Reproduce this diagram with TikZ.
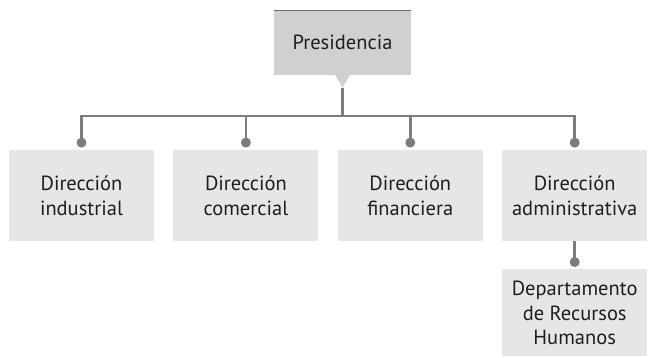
\documentclass[tikz,border=0pt]{standalone}
\usepackage{fontspec}
\setmainfont{PT Sans}
\usetikzlibrary{positioning, calc}
\definecolor{ink}{HTML}{1E1E1E}
\definecolor{linegray}{HTML}{7C7C7C}
\definecolor{topgray}{HTML}{6A6A6A}
\definecolor{presgray}{HTML}{D0D0D0}
\definecolor{softgray}{HTML}{E6E6E6}
\tikzset{
  unitbox/.style={
    rectangle, fill=softgray, draw=none,
    minimum width=145pt, minimum height=91pt, inner sep=0pt,
    align=center, text=ink, font=\fontsize{20.5}{24.5}\selectfont
  },
  presbox/.style={unitbox, fill=presgray, minimum width=137pt, minimum height=64pt},
  deptbox/.style={unitbox, minimum height=87pt},
  dot/.style={circle, fill=linegray, minimum size=10pt, inner sep=0pt},
  link/.style={line width=2.8pt, draw=linegray},
}
\begin{document}
\begin{tikzpicture}[x=1pt, y=-1pt]
  \useasboundingbox (0,0) rectangle (649,357);

  \node[presbox] (pres) at (342.5,42.5) {Presidencia};
  \draw[line width=1.6pt, topgray] (pres.north west) -- (pres.north east);
  \coordinate[below=13pt of pres] (tip);
  \fill[presgray] ($(pres.south)+(-7.5,0)$) -- ($(pres.south)+(7.5,0)$) -- (tip) -- cycle;

  \node[unitbox] (ind) at (81.5,195.5) {Dirección\\industrial};
  \node[unitbox, right=19pt of ind] (com) {Dirección\\comercial};
  \node[unitbox, right=19pt of com] (fin) {Dirección\\financiera};
  \node[unitbox, right=19pt of fin] (adm) {Dirección\\administrativa};
  \node[deptbox, below=28pt of adm] (rrhh) {Departamento\\de Recursos\\Humanos};

  \node[dot, above=2pt of ind] (dotind) {};
  \node[dot, above=2pt of com] (dotcom) {};
  \node[dot, above=2pt of fin] (dotfin) {};
  \node[dot, above=2pt of adm] (dotadm) {};
  \node[dot, above=2pt of rrhh] (dotrrhh) {};

  \coordinate (bus) at (342.5,116);
  \draw[link] (tip) -- (bus);
  \draw[link] (dotind.center) |- (bus);
  \draw[link] (dotcom.center) |- (bus);
  \draw[link] (dotfin.center) |- (bus);
  \draw[link] (dotadm.center) |- (bus);
  \draw[link] (adm.south) -- (dotrrhh.center);
\end{tikzpicture}
\end{document}
